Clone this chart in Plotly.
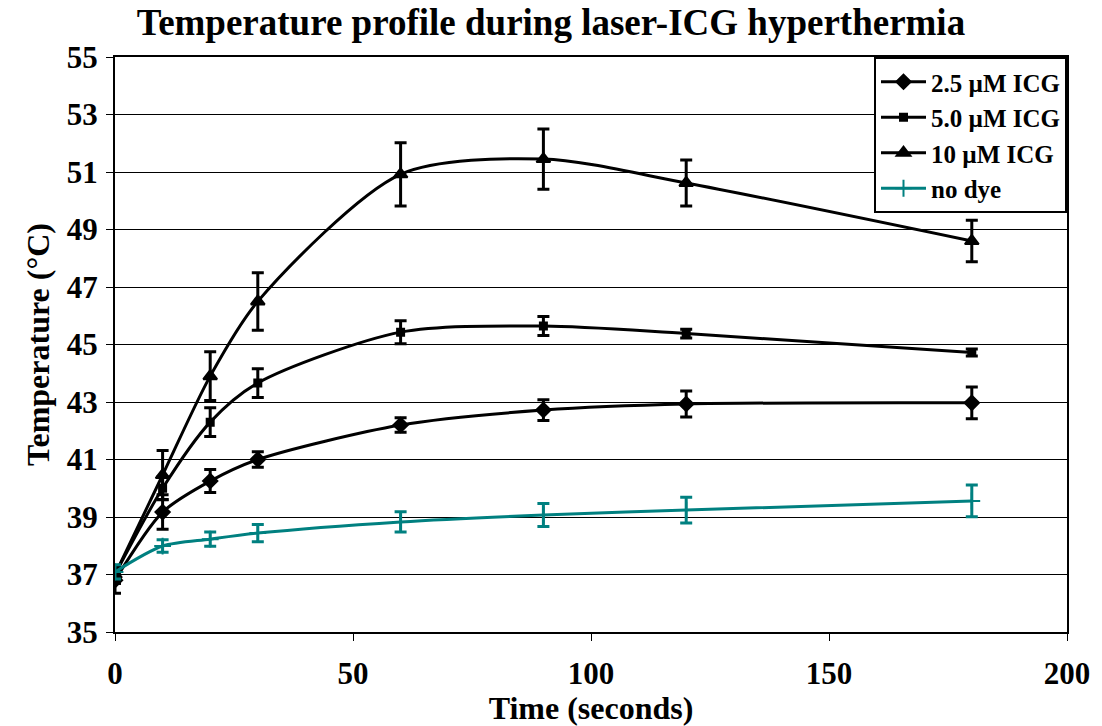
import plotly.graph_objects as go

time_s = [0, 10, 20, 30, 60, 90, 120, 180]

icg_25 = [36.8, 39.17, 40.25, 41.0, 42.2, 42.72, 42.93, 42.97]
icg_25_err = [0.45, 0.6, 0.4, 0.27, 0.25, 0.36, 0.45, 0.55]

icg_50 = [37.0, 40.0, 42.3, 43.66, 45.43, 45.64, 45.38, 44.72]
icg_50_err = [0.3, 0.4, 0.5, 0.5, 0.4, 0.33, 0.15, 0.12]

icg_10 = [37.0, 40.46, 43.9, 46.5, 50.92, 51.45, 50.62, 48.6]
icg_10_err = [0.3, 0.85, 0.85, 1.0, 1.1, 1.05, 0.8, 0.72]

no_dye = [37.09, 37.99, 38.23, 38.44, 38.83, 39.07, 39.24, 39.56]
no_dye_err = [0.25, 0.22, 0.25, 0.3, 0.35, 0.4, 0.45, 0.55]

series_names = ["2.5 µM ICG", "5.0 µM ICG", "10 µM ICG", "no dye"]

FONT = "Liberation Serif, Times New Roman, serif"
BLACK = "#000000"
TEAL = "#008080"

fig = go.Figure()

def add(name, y, err, color, symbol, msize):
    fig.add_trace(go.Scatter(
        x=time_s, y=y, name=name, mode="lines+markers",
        line=dict(color=color, width=3, shape="spline", smoothing=0.8),
        marker=dict(symbol=symbol, size=msize, color=color,
                    line=dict(color=color, width=2)),
        error_y=dict(type="data", array=err, visible=True,
                     color=color, thickness=3, width=6),
    ))

add(series_names[0], icg_25, icg_25_err, BLACK, "diamond", 11)
add(series_names[1], icg_50, icg_50_err, BLACK, "square", 7)
add(series_names[2], icg_10, icg_10_err, BLACK, "triangle-up", 12)
add(series_names[3], no_dye, no_dye_err, TEAL, "cross-thin", 12)

fig.update_layout(
    width=1102, height=726,
    margin=dict(l=115, r=30, t=57, b=94),
    paper_bgcolor="white", plot_bgcolor="white",
    font=dict(family=FONT, color=BLACK, size=30, weight="bold"),
    title=dict(text="Temperature profile during laser-ICG hyperthermia",
               x=0.5, xref="container", y=0.97, yref="container",
               yanchor="middle",
               font=dict(family=FONT, size=37, weight="bold", color=BLACK)),
    xaxis=dict(range=[0, 200], dtick=50, tick0=0,
               showgrid=False, zeroline=False,
               showline=True, linecolor=BLACK, linewidth=2, mirror=True,
               ticks="outside", ticklen=7, tickwidth=1, tickcolor=BLACK,
               ticklabelstandoff=6,
               tickfont=dict(family=FONT, size=31, weight="bold"),
               title=dict(text="Time (seconds)", standoff=0,
                          font=dict(family=FONT, size=32, weight="bold"))),
    yaxis=dict(range=[35, 55], dtick=2, tick0=35,
               showgrid=True, gridcolor=BLACK, gridwidth=1,
               zeroline=False,
               showline=True, linecolor=BLACK, linewidth=2, mirror=True,
               ticks="outside", ticklen=7, tickwidth=1, tickcolor=BLACK,
               ticklabelstandoff=2,
               tickfont=dict(family=FONT, size=31, weight="bold"),
               title=dict(text="Temperature (°C)", standoff=8,
                          font=dict(family=FONT, size=32, weight="bold"))),
    legend=dict(x=1.0, y=1.0, xanchor="right", yanchor="top",
                bgcolor="white", bordercolor=BLACK, borderwidth=2,
                font=dict(family=FONT, size=25, weight="bold"),
                tracegroupgap=0, itemsizing="trace", itemwidth=45),
    showlegend=True,
)

fig.write_html("out.html")
